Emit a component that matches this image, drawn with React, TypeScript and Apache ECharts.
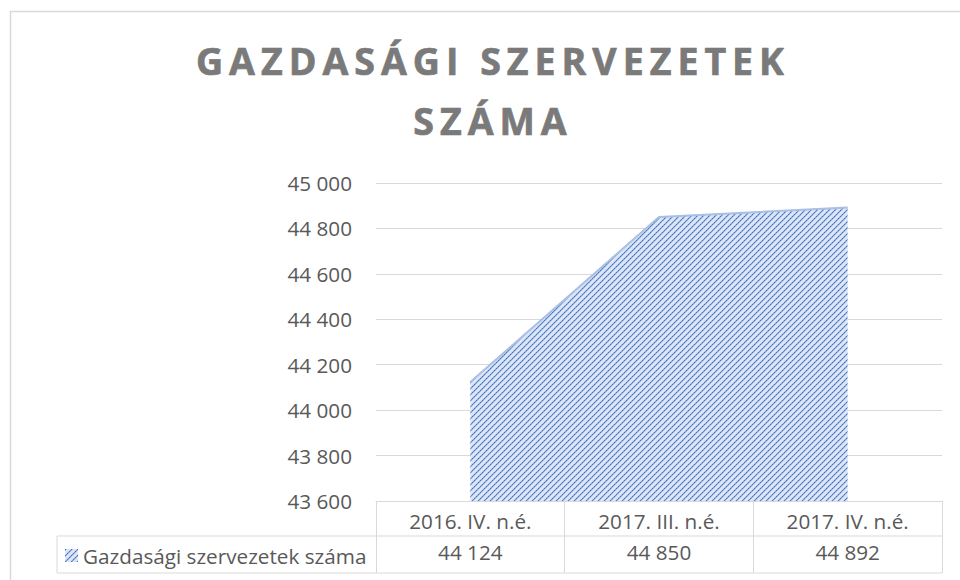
import React, { useEffect, useRef } from "react";
import * as echarts from "echarts";

const categories = ["2016. IV. n.é.", "2017. III. n.é.", "2017. IV. n.é."];
const values = [44124, 44850, 44892];
const seriesName = "Gazdasági szervezetek száma";
const titleLines = ["GAZDASÁGI SZERVEZETEK", "SZÁMA"];
const yMin = 43600;
const yMax = 45000;
const yStep = 200;

const fmt = (n: number) => String(n).replace(/\B(?=(\d{3})+(?!\d))/g, " ");

const TEXT = "#595959";
const GRIDC = "#d9d9d9";
const FONT = "Open Sans";
const FS = 20.7;

const GRID_L = 376;
const GRID_R = 942;
const GRID_T = 183;
const GRID_B = 501;
const ROW1_B = 536;
const ROW2_B = 573;
const LEG_L = 57;
const TITLE_SPACING = 6;

function makeHatch(): HTMLCanvasElement {
  const n = 6;
  const c = document.createElement("canvas");
  c.width = n;
  c.height = n;
  const ctx = c.getContext("2d")!;
  for (let x = 0; x < n; x++) {
    for (let y = 0; y < n; y++) {
      const d = (x + y) % n;
      let col = "#dde6f5";
      if (d === 0) col = (x % 2 === 0) ? "#4775c2" : "#6a92d2";
      else if (d === 1) col = "#a3bbe3";
      else if (d === 5) col = "#c3d3ee";
      ctx.fillStyle = col;
      ctx.fillRect(x, y, 1, 1);
    }
  }
  return c;
}

export default function App() {
  const ref = useRef<HTMLDivElement>(null);
  useEffect(() => {
    if (!ref.current) return;
    const chart = echarts.init(ref.current, null, { renderer: "svg" });
    const hatch = makeHatch();
    const pattern: any = {
      image: hatch.toDataURL(),
      imageWidth: hatch.width,
      imageHeight: hatch.height,
      repeat: "repeat",
    };
    const option: any = {
      animation: false,
      backgroundColor: "#ffffff",
      title: {
        text: titleLines.join("\n"),
        left: 490 + TITLE_SPACING / 2,
        top: 30,
        padding: 0,
        textAlign: "center",
        textStyle: {
          color: "#7a7a7a",
          fontFamily: FONT,
          fontWeight: "bold",
          fontSize: 37.5,
          lineHeight: 60,
          textBorderColor: "#7a7a7a",
          textBorderWidth: 0.7,
        },
      },
      legend: {
        left: 65,
        top: 545,
        padding: 0,
        itemWidth: 13,
        itemHeight: 13,
        data: [{ name: seriesName, icon: "rect", itemStyle: { color: pattern, borderWidth: 0 } }],
        textStyle: { color: TEXT, fontFamily: FONT, fontSize: FS },
      },
      grid: { left: GRID_L, right: 960 - GRID_R, top: GRID_T, bottom: 580 - GRID_B },
      xAxis: [
        {
          type: "category",
          data: categories,
          boundaryGap: true,
          axisLine: { show: true, lineStyle: { color: GRIDC, width: 1 } },
          axisTick: { show: true, length: ROW2_B - GRID_B, lineStyle: { color: GRIDC, width: 1 } },
          axisLabel: { interval: 0, margin: 9, color: TEXT, fontFamily: FONT, fontSize: FS },
        },
        {
          type: "category",
          data: categories,
          position: "bottom",
          offset: 31,
          boundaryGap: true,
          axisLine: { show: false },
          axisTick: { show: false },
          axisLabel: {
            interval: 0,
            margin: 9,
            color: TEXT,
            fontFamily: FONT,
            fontSize: FS,
            formatter: (_v: string, i: number) => fmt(values[i]),
          },
        },
      ],
      yAxis: {
        type: "value",
        min: yMin,
        max: yMax,
        interval: yStep,
        axisLine: { show: false },
        axisTick: { show: false },
        axisLabel: { margin: 24, color: TEXT, fontFamily: FONT, fontSize: FS, formatter: (v: number) => fmt(v) },
        splitLine: { show: true, lineStyle: { color: GRIDC, width: 1 } },
      },
      series: [
        {
          name: seriesName,
          type: "line",
          data: values,
          symbol: "none",
          xAxisIndex: 0,
          itemStyle: { color: "#4472c4" },
          lineStyle: { color: "#a9bfe5", width: 2 },
          areaStyle: { color: pattern, opacity: 1 },
        },
      ],
      graphic: [
        {
          type: "rect",
          shape: { x: 10.5, y: 11.5, width: 980, height: 600 },
          style: { fill: "none", stroke: GRIDC, lineWidth: 1.5 },
          z: 0,
          silent: true,
        },
        {
          type: "line",
          shape: { x1: LEG_L, y1: ROW1_B, x2: GRID_R, y2: ROW1_B },
          style: { stroke: GRIDC, lineWidth: 1 },
          silent: true,
        },
        {
          type: "line",
          shape: { x1: LEG_L, y1: ROW2_B, x2: GRID_R, y2: ROW2_B },
          style: { stroke: GRIDC, lineWidth: 1 },
          silent: true,
        },
        {
          type: "line",
          shape: { x1: LEG_L, y1: ROW1_B, x2: LEG_L, y2: ROW2_B },
          style: { stroke: GRIDC, lineWidth: 1 },
          silent: true,
        },
      ],
    };
    chart.setOption(option);
    const applySpacing = () => {
      const texts = ref.current?.querySelectorAll("text");
      texts?.forEach((t) => {
        const s = (t.textContent || "").trim();
        if (titleLines.indexOf(s) >= 0) {
          t.setAttribute("letter-spacing", TITLE_SPACING + "px");
        }
      });
    };
    applySpacing();
    chart.on("finished", applySpacing);
    const tm = setTimeout(applySpacing, 50);
    return () => {
      clearTimeout(tm);
      chart.dispose();
    };
  }, []);
  return (
    <div
      ref={ref}
      style={{ position: "fixed", left: 0, top: 0, width: 960, height: 580 }}
    />
  );
}
